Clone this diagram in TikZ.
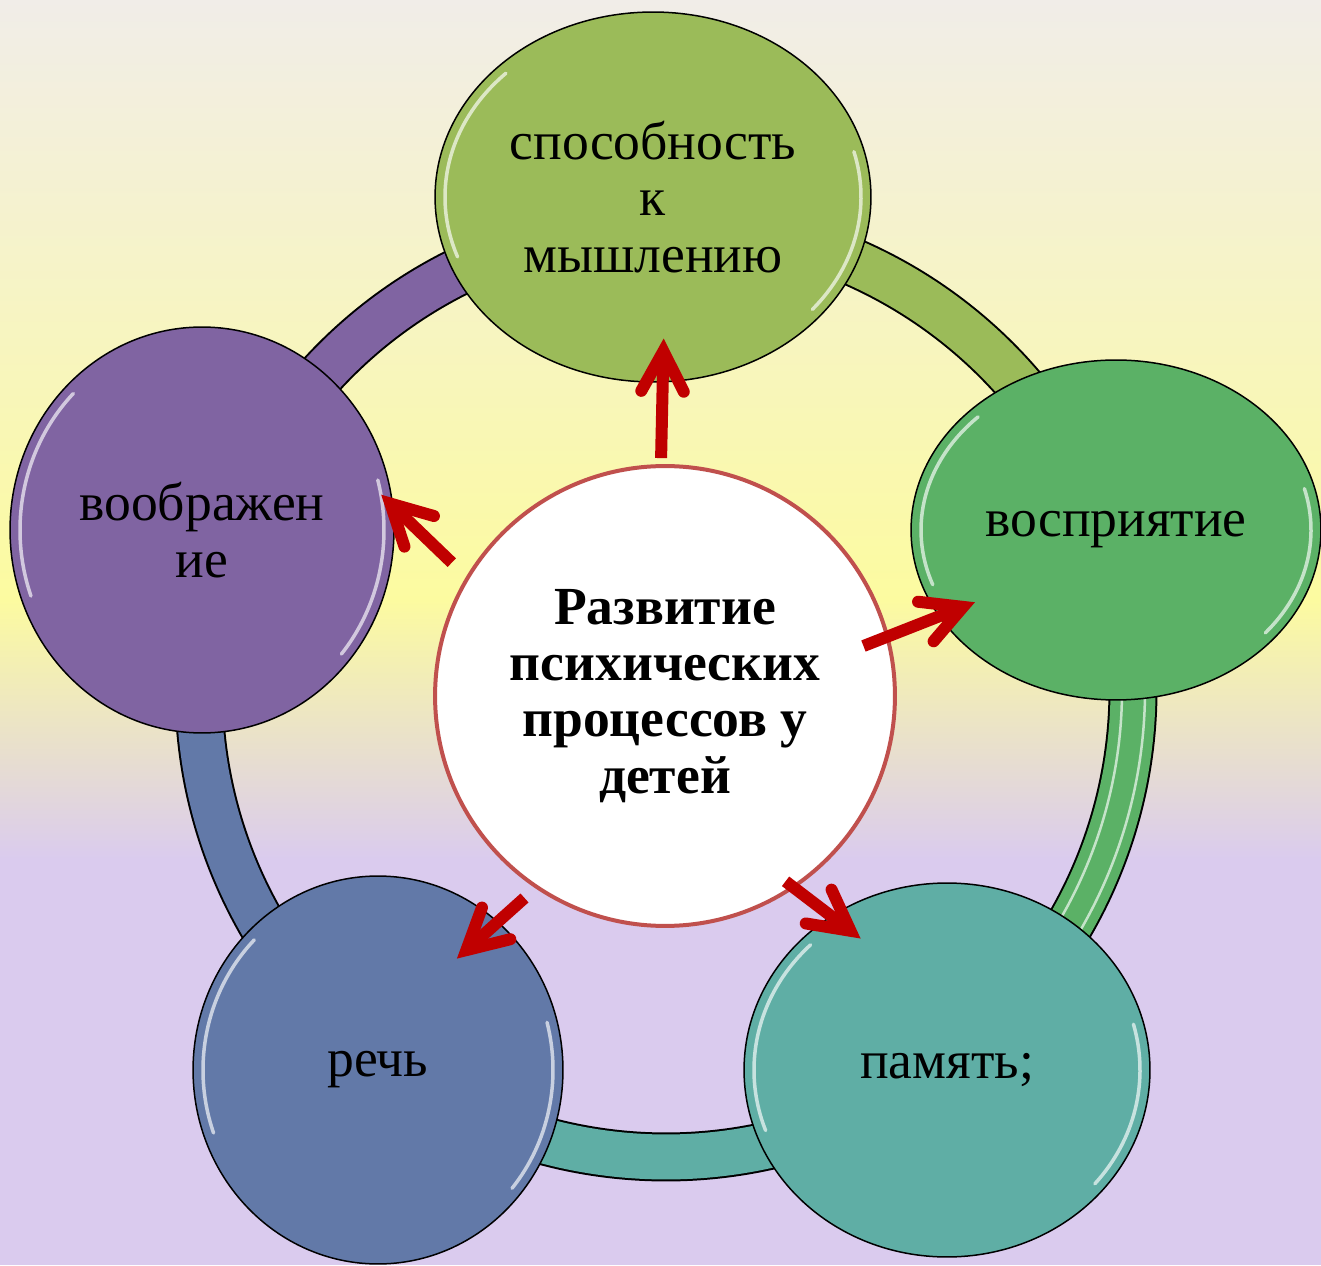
\documentclass[tikz,border=0pt]{standalone}
\usepackage{fontspec}
\setmainfont{Liberation Serif}
\usetikzlibrary{shapes.geometric, arrows.meta}

\definecolor{cOlive}{HTML}{9BBB59}
\definecolor{cGreen}{HTML}{5BB166}
\definecolor{cTeal}{HTML}{5FAEA5}
\definecolor{cBlue}{HTML}{6279A8}
\definecolor{cPurple}{HTML}{8064A2}
\definecolor{cRed}{HTML}{C00000}
\definecolor{cRim}{HTML}{C0504D}
\definecolor{bgTop}{HTML}{F1EDE8}
\definecolor{bgYellow}{HTML}{FCFBA0}
\definecolor{bgLav}{HTML}{DACBEE}

\begin{document}
\begin{tikzpicture}[x = 0.02cm, y = 0.02cm,
    bubble/.style = {shape = ellipse, draw = black, line width = 0.03cm, inner sep = 0pt,
        align = center, font = \fontsize{30.5}{32}\selectfont},
    gloss/.style = {white, opacity = 0.65, line width = 0.07cm, line cap = round},
    band/.style = {line width = 0.98cm},
    flow/.style = {cRed, line width = 0.24cm,
        -{Straight Barb[length = 0.8cm, width = 0.85cm, line cap = round, line join = miter]}}]
    \useasboundingbox (0,0) rectangle (1321,1265);
    \shade[top color = bgTop, bottom color = bgYellow] (0,665) rectangle (1321,1265);
    \shade[top color = bgYellow, bottom color = bgLav] (0,406) rectangle (1321,665.5);
    \fill[bgLav] (0,0) rectangle (1321,406.5);

    \coordinate (hub) at (666,575);
    \draw[band, black] ([shift = {(91.5:467)}]hub) arc[start angle = 91.5, end angle = 19.6, radius = 467];
    \draw[band, cOlive, line width = 0.9cm] ([shift = {(91.5:467)}]hub) arc[start angle = 91.5, end angle = 19.6, radius = 467];
    \draw[band, black] ([shift = {(19.6:467)}]hub) arc[start angle = 19.6, end angle = -53.5, radius = 467];
    \draw[band, cGreen, line width = 0.9cm] ([shift = {(19.6:467)}]hub) arc[start angle = 19.6, end angle = -53.5, radius = 467];
    \draw[gloss, line width = 0.05cm] ([shift = {(19.6:456)}]hub) arc[start angle = 19.6, end angle = -53.5, radius = 456];
    \draw[gloss, line width = 0.05cm] ([shift = {(19.6:479)}]hub) arc[start angle = 19.6, end angle = -53.5, radius = 479];
    \draw[band, black] ([shift = {(-53.5:467)}]hub) arc[start angle = -53.5, end angle = -127.2, radius = 467];
    \draw[band, cTeal, line width = 0.9cm] ([shift = {(-53.5:467)}]hub) arc[start angle = -53.5, end angle = -127.2, radius = 467];
    \draw[band, black] ([shift = {(232.8:467)}]hub) arc[start angle = 232.8, end angle = 161, radius = 467];
    \draw[band, cBlue, line width = 0.9cm] ([shift = {(232.8:467)}]hub) arc[start angle = 232.8, end angle = 161, radius = 467];
    \draw[band, black] ([shift = {(161:467)}]hub) arc[start angle = 161, end angle = 91.5, radius = 467];
    \draw[band, cPurple, line width = 0.9cm] ([shift = {(161:467)}]hub) arc[start angle = 161, end angle = 91.5, radius = 467];

    \node[bubble, fill = cOlive, minimum width = 8.72cm, minimum height = 7.4cm] (top) at (653,1068) {способность\\к\\мышлению};
    \node[bubble, fill = cGreen, minimum width = 8.2cm, minimum height = 6.8cm] (rgt) at (1116,735) {восприятие};
    \node[bubble, fill = cTeal, minimum width = 8.12cm, minimum height = 7.48cm] (tel) at (947,195) {память;};
    \node[bubble, fill = cBlue, minimum width = 7.4cm, minimum height = 7.76cm] (blu) at (378,195) {речь};
    \node[bubble, fill = cPurple, minimum width = 7.68cm, minimum height = 8.12cm] (lft) at (202,735) {воображен\\ие};

    \draw[gloss] ([shift = {(135:208 and 175)}]top.center) arc[start angle = 135, end angle = 200, x radius = 208, y radius = 175]
        ([shift = {(15:208 and 175)}]top.center) arc[start angle = 15, end angle = -40, x radius = 208, y radius = 175];
    \draw[gloss] ([shift = {(135:195 and 160)}]rgt.center) arc[start angle = 135, end angle = 200, x radius = 195, y radius = 160]
        ([shift = {(15:195 and 160)}]rgt.center) arc[start angle = 15, end angle = -40, x radius = 195, y radius = 160];
    \draw[gloss] ([shift = {(135:193 and 177)}]tel.center) arc[start angle = 135, end angle = 200, x radius = 193, y radius = 177]
        ([shift = {(15:193 and 177)}]tel.center) arc[start angle = 15, end angle = -40, x radius = 193, y radius = 177];
    \draw[gloss] ([shift = {(135:175 and 184)}]blu.center) arc[start angle = 135, end angle = 200, x radius = 175, y radius = 184]
        ([shift = {(15:175 and 184)}]blu.center) arc[start angle = 15, end angle = -40, x radius = 175, y radius = 184];
    \draw[gloss] ([shift = {(135:182 and 193)}]lft.center) arc[start angle = 135, end angle = 200, x radius = 182, y radius = 193]
        ([shift = {(15:182 and 193)}]lft.center) arc[start angle = 15, end angle = -40, x radius = 182, y radius = 193];

    \node[shape = circle, draw = cRim, fill = white, line width = 0.08cm, minimum size = 9.2cm, inner sep = 0pt,
        align = center, font = \fontsize{30.5}{32}\selectfont\bfseries] (ctr) at (665,569)
        {Развитие\\психических\\процессов у\\детей};

    \draw[flow, shorten <= 0.12cm, shorten >= -0.88cm] (ctr.91.2) -- (top.-87.8);
    \draw[flow, shorten <= 0.4cm, shorten >= -0.34cm] (ctr.149) -- (lft.7.4);
    \draw[flow, shorten <= -0.55cm, shorten >= -0.78cm] (ctr.15.6) -- (rgt.206.7);
    \draw[flow, shorten <= 0.29cm, shorten >= -1.11cm] (ctr.236.6) -- (blu.51.5);
    \draw[flow, shorten <= -0.23cm, shorten >= -0.75cm] (ctr.-56.3) -- (tel.127.7);
\end{tikzpicture}
\end{document}
